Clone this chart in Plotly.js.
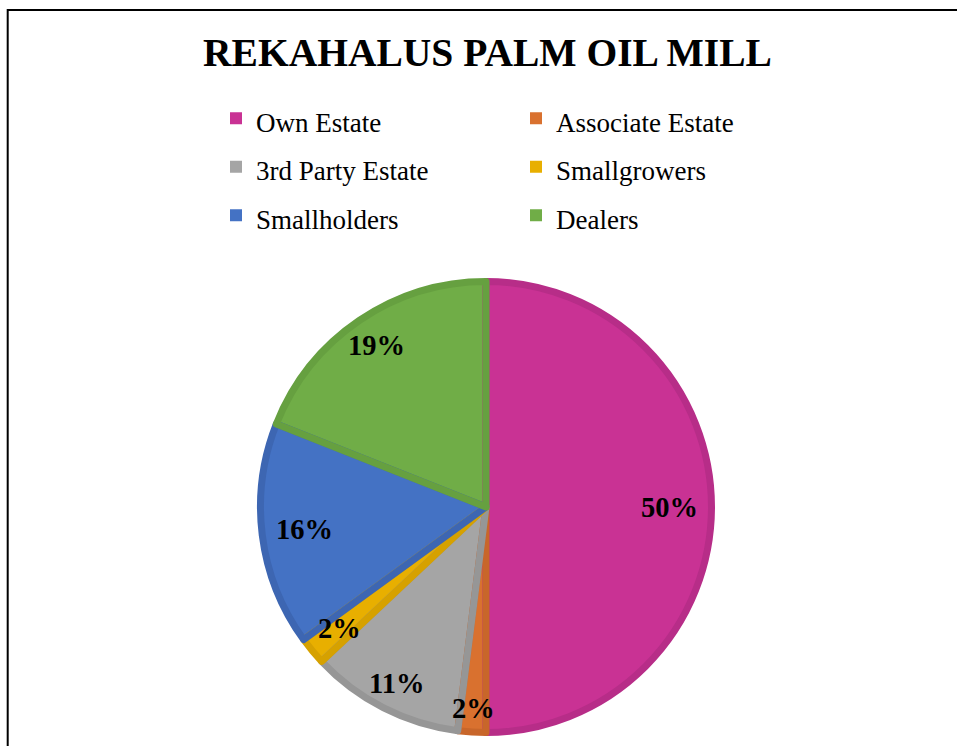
<!DOCTYPE html>
<html>
<head>
<meta charset="utf-8">
<script src="https://cdn.plot.ly/plotly-3.0.1.min.js"></script>
<style>
  html, body { margin: 0; padding: 0; background: #ffffff; }
  #chart { width: 957px; height: 746px; }
</style>
</head>
<body>
<div id="chart"></div>
<script>
// ---- data ----
var categories = ["Own Estate", "Associate Estate", "3rd Party Estate", "Smallgrowers", "Smallholders", "Dealers"];
var shares = [50, 2, 11, 2, 16, 19];
var fillColors = ["#C93294", "#D9712F", "#A5A5A5", "#E8AF00", "#4472C4", "#70AD47"];
var edgeColors = ["#B72D88", "#C8662A", "#969696", "#D6A100", "#3D66B2", "#66A040"];
var chartTitle = "REKAHALUS PALM OIL MILL";

// ---- layout geometry (pixels) ----
var W = 957, H = 746;
var M = {l: 0, r: 70, t: 0, b: 0};
var plotW = W - M.l - M.r, plotH = H - M.t - M.b;
var edgeWidth = 7;
var cx = 486, cy = 507, Rfull = 229;          // pie centre / outer radius in page pixels
var R = Rfull - edgeWidth / 2;
function px2x(p) { return (p - M.l) / plotW; }
function py2y(p) { return (H - M.b - p) / plotH; }

// ---- percentage labels placed "inside end" from the slice angles ----
var labelSize = 28.5;
var total = shares.reduce(function (a, b) { return a + b; }, 0);
var pad = 18, halfW = 28, halfH = 9;
var rx = Rfull - pad - halfW, ry = Rfull - pad - halfH;
var annotations = [];
var cum = 0;
for (var i = 0; i < shares.length; i++) {
  var mid = (cum + shares[i] / 2) / total;
  cum += shares[i];
  var th = 2 * Math.PI * mid;
  var ux = Math.sin(th), uy = Math.cos(th);
  var r = 1 / Math.sqrt((ux / rx) * (ux / rx) + (uy / ry) * (uy / ry));
  annotations.push({
    xref: "paper", yref: "paper",
    x: px2x(cx + r * ux),
    y: py2y(cy - r * uy),
    xanchor: "center", yanchor: "middle",
    showarrow: false,
    text: Math.round(shares[i] / total * 100) + "%",
    font: {family: "Liberation Serif", size: labelSize, color: "#000000", weight: "bold"}
  });
}

var legendLabels = categories.map(function (c) {
  return '<span style="font-size:27px">' + c + '</span>';
});

var pieDomain = {
  x: [px2x(cx - R), px2x(cx + R)],
  y: [py2y(cy + R), py2y(cy - R)]
};

var fillTrace = {
  type: "pie",
  labels: legendLabels,
  values: shares,
  sort: false,
  direction: "clockwise",
  rotation: 0,
  textinfo: "none",
  hoverinfo: "skip",
  marker: {colors: fillColors, line: {width: 0}},
  domain: pieDomain
};

var edgeTrace = {
  type: "pie",
  labels: legendLabels,
  values: shares,
  sort: false,
  direction: "clockwise",
  rotation: 0,
  textinfo: "none",
  hoverinfo: "skip",
  showlegend: false,
  marker: {colors: fillColors.map(function () { return "rgba(0,0,0,0)"; }),
           line: {color: edgeColors, width: edgeWidth}},
  domain: pieDomain
};

var layout = {
  width: W, height: H,
  margin: M,
  paper_bgcolor: "#ffffff",
  plot_bgcolor: "#ffffff",
  showlegend: true,
  title: {
    text: chartTitle,
    xref: "container", yref: "container",
    x: 487.5 / W, y: 1 - 52 / H,
    xanchor: "center", yanchor: "middle",
    font: {family: "Liberation Serif", size: 39.5, color: "#000000", weight: "bold"}
  },
  legend: {
    orientation: "h",
    x: px2x(216), y: py2y(89),
    xanchor: "left", yanchor: "top",
    entrywidth: 255, entrywidthmode: "pixels",
    itemwidth: 30,
    traceorder: "normal",
    bgcolor: "rgba(0,0,0,0)",
    font: {family: "Liberation Serif", size: 35, color: "#000000"}
  },
  annotations: annotations,
  shapes: [{
    type: "rect", xref: "paper", yref: "paper",
    x0: px2x(7.7), x1: px2x(1000),
    y0: py2y(800), y1: py2y(10),
    line: {color: "#000000", width: 2},
    fillcolor: "rgba(0,0,0,0)",
    layer: "above"
  }]
};

Plotly.newPlot("chart", [fillTrace, edgeTrace], layout, {displayModeBar: false, staticPlot: true});
</script>
</body>
</html>
